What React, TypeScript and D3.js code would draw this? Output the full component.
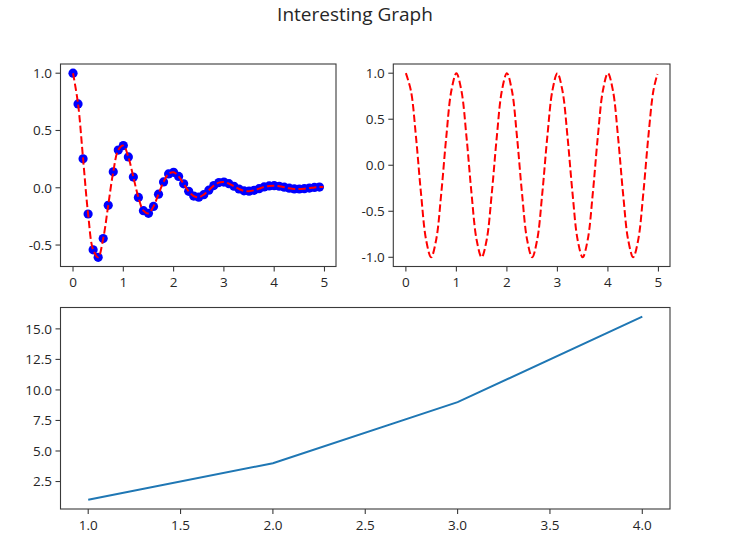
import React from "react";
import * as d3 from "d3";

// ---- data ----
const t1: number[] = [
  0.0, 0.1, 0.2, 0.3, 0.4, 0.5, 0.6, 0.7, 0.8, 0.9,
  1.0, 1.1, 1.2, 1.3, 1.4, 1.5, 1.6, 1.7, 1.8, 1.9,
  2.0, 2.1, 2.2, 2.3, 2.4, 2.5, 2.6, 2.7, 2.8, 2.9,
  3.0, 3.1, 3.2, 3.3, 3.4, 3.5, 3.6, 3.7, 3.8, 3.9,
  4.0, 4.1, 4.2, 4.3, 4.4, 4.5, 4.6, 4.7, 4.8, 4.9,
];
const dampedDots: number[] = [
  1.0, 0.732, 0.253, -0.229, -0.542, -0.607, -0.444, -0.153, 0.139, 0.329,
  0.368, 0.269, 0.093, -0.084, -0.2, -0.223, -0.163, -0.056, 0.051, 0.121,
  0.135, 0.099, 0.034, -0.031, -0.073, -0.082, -0.06, -0.021, 0.019, 0.045,
  0.05, 0.036, 0.013, -0.011, -0.027, -0.03, -0.022, -0.008, 0.007, 0.016,
  0.018, 0.013, 0.005, -0.004, -0.01, -0.011, -0.008, -0.003, 0.003, 0.006,
];
const lineEndT = 4.98;
const dampedEnd = 0.0068;
const cosValues: number[] = [
  1.0, 0.809, 0.309, -0.309, -0.809, -1.0, -0.809, -0.309, 0.309, 0.809,
  1.0, 0.809, 0.309, -0.309, -0.809, -1.0, -0.809, -0.309, 0.309, 0.809,
  1.0, 0.809, 0.309, -0.309, -0.809, -1.0, -0.809, -0.309, 0.309, 0.809,
  1.0, 0.809, 0.309, -0.309, -0.809, -1.0, -0.809, -0.309, 0.309, 0.809,
  1.0, 0.809, 0.309, -0.309, -0.809, -1.0, -0.809, -0.309, 0.309, 0.809,
];
const cosEnd = 0.992;
const squaresX: number[] = [1, 2, 3, 4];
const squaresY: number[] = [1, 4, 9, 16];

const ticks1X = [0, 1, 2, 3, 4, 5];
const ticks1Y = [-0.5, 0.0, 0.5, 1.0];
const ticks2X = [0, 1, 2, 3, 4, 5];
const ticks2Y = [-1.0, -0.5, 0.0, 0.5, 1.0];
const ticks3X = [1.0, 1.5, 2.0, 2.5, 3.0, 3.5, 4.0];
const ticks3Y = [2.5, 5.0, 7.5, 10.0, 12.5, 15.0];

const title = "Interesting Graph";

const FONT = "'Open Sans', 'Noto Sans', sans-serif";
const TXT = "#262626";
const SPINE = "#3a3a3a";

type Pt = [number, number];

function Axes(props: {
  x0: number; x1: number; y0: number; y1: number;
  xDomain: [number, number]; yDomain: [number, number];
  xTicks: number[]; yTicks: number[];
  xFmt: (v: number) => string; yFmt: (v: number) => string;
  children: (x: d3.ScaleLinear<number, number>, y: d3.ScaleLinear<number, number>) => React.ReactNode;
  clipId: string;
}) {
  const { x0, x1, y0, y1 } = props;
  const x = d3.scaleLinear().domain(props.xDomain).range([x0, x1]);
  const y = d3.scaleLinear().domain(props.yDomain).range([y1, y0]);
  return (
    <g>
      <defs>
        <clipPath id={props.clipId}>
          <rect x={x0} y={y0} width={x1 - x0} height={y1 - y0} />
        </clipPath>
      </defs>
      <g clipPath={`url(#${props.clipId})`}>{props.children(x, y)}</g>
      <rect x={x0} y={y0} width={x1 - x0} height={y1 - y0} fill="none" stroke={SPINE} strokeWidth={1.1} />
      {props.xTicks.map((t) => (
        <g key={"x" + t}>
          <line x1={x(t)} x2={x(t)} y1={y1} y2={y1 + 5} stroke={SPINE} strokeWidth={1.1} />
          <text x={x(t)} y={y1 + 20.5} textAnchor="middle" fontSize={13.5} fill={TXT} fontFamily={FONT}>
            {props.xFmt(t)}
          </text>
        </g>
      ))}
      {props.yTicks.map((t) => (
        <g key={"y" + t}>
          <line x1={x0 - 5} x2={x0} y1={y(t)} y2={y(t)} stroke={SPINE} strokeWidth={1.1} />
          <text x={x0 - 8.5} y={y(t) + 4.8} textAnchor="end" fontSize={13.5} fill={TXT} fontFamily={FONT}>
            {props.yFmt(t)}
          </text>
        </g>
      ))}
    </g>
  );
}

export default function App() {
  const W = 743, H = 546;
  const intFmt = (v: number) => d3.format("d")(v);
  const oneDec = (v: number) => d3.format(".1f")(v).replace("−", "-");

  const dampedLinePts: Pt[] = t1.map((t, i) => [t, dampedDots[i]] as Pt).concat([[lineEndT, dampedEnd]]);
  const cosPts: Pt[] = t1.map((t, i) => [t, cosValues[i]] as Pt).concat([[lineEndT, cosEnd]]);
  const sqPts: Pt[] = squaresX.map((v, i) => [v, squaresY[i]] as Pt);

  return (
    <svg width={W} height={H} style={{ position: "absolute", left: 0, top: 0, background: "#fff" }}>
      <rect width={W} height={H} fill="#fff" />
      <text x={355} y={20.5} textAnchor="middle" fontSize={19} fill={TXT} fontFamily={FONT}>
        {title}
      </text>

      <Axes
        clipId="c1"
        x0={60.5} x1={336} y0={64} y1={266.5}
        xDomain={[-0.249, 5.229]} yDomain={[-0.6874, 1.0804]}
        xTicks={ticks1X} yTicks={ticks1Y}
        xFmt={intFmt} yFmt={oneDec}
      >
        {(x, y) => {
          const line = d3.line<Pt>().x((d) => x(d[0])).y((d) => y(d[1])).curve(d3.curveCatmullRom);
          return (
            <g>
              {t1.map((t, i) => (
                <circle key={i} cx={x(t)} cy={y(dampedDots[i])} r={4.6} fill="#0000ff" />
              ))}
              <path d={line(dampedLinePts) || ""} fill="none" stroke="#ff0000" strokeWidth={2} strokeDasharray="7.4,3.2" />
            </g>
          );
        }}
      </Axes>

      <Axes
        clipId="c2"
        x0={393.3} x1={670} y0={64} y1={266.5}
        xDomain={[-0.249, 5.229]} yDomain={[-1.1, 1.1]}
        xTicks={ticks2X} yTicks={ticks2Y}
        xFmt={intFmt} yFmt={oneDec}
      >
        {(x, y) => {
          const line = d3.line<Pt>().x((d) => x(d[0])).y((d) => y(d[1])).curve(d3.curveCatmullRom);
          return <path d={line(cosPts) || ""} fill="none" stroke="#ff0000" strokeWidth={2} strokeDasharray="7.4,3.2" />;
        }}
      </Axes>

      <Axes
        clipId="c3"
        x0={60.5} x1={670} y0={307.5} y1={509}
        xDomain={[0.85, 4.15]} yDomain={[0.25, 16.75]}
        xTicks={ticks3X} yTicks={ticks3Y}
        xFmt={oneDec} yFmt={oneDec}
      >
        {(x, y) => {
          const line = d3.line<Pt>().x((d) => x(d[0])).y((d) => y(d[1]));
          return <path d={line(sqPts) || ""} fill="none" stroke="#1f77b4" strokeWidth={2} />;
        }}
      </Axes>
    </svg>
  );
}
